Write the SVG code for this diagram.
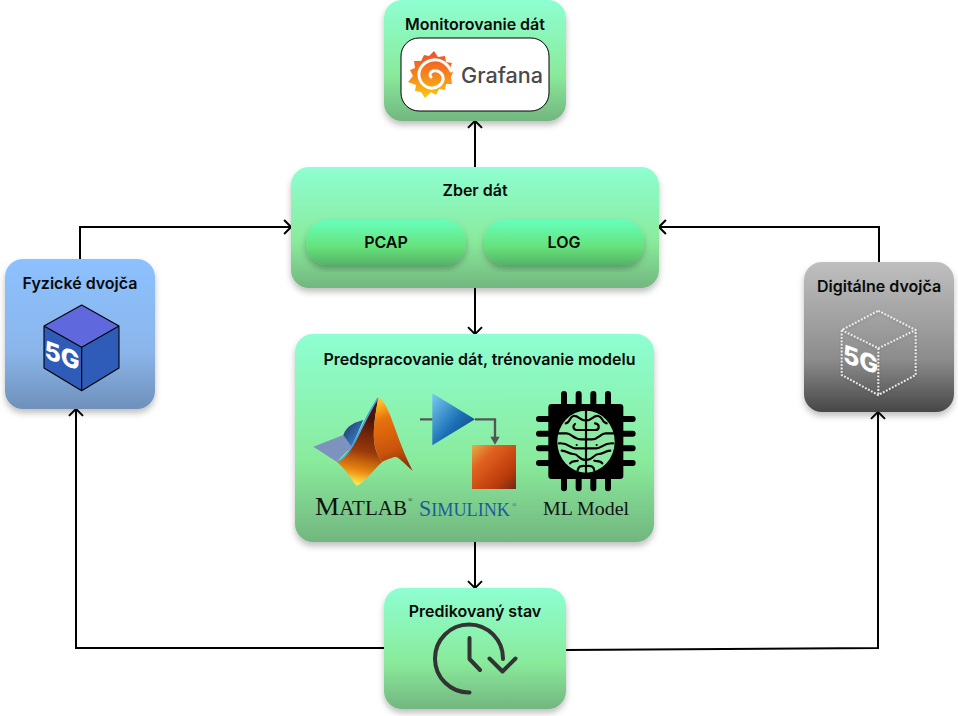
<svg xmlns="http://www.w3.org/2000/svg" width="958" height="716" viewBox="0 0 958 716">
<style>
text{font-family:"Inter","Liberation Sans",sans-serif;font-weight:600;font-size:16px;fill:#0a0a0a;text-anchor:middle}
.conn{fill:none;stroke:#000;stroke-width:2}
.card{filter:url(#sh)}
.five{font-size:25px;font-weight:800;fill:#fff;text-anchor:start}
.serif{font-family:"Liberation Serif",serif;font-weight:400;text-anchor:start}
.sq{stroke:#000;stroke-width:1.1;fill:none;stroke-linecap:round;stroke-linejoin:round}
.dots{fill:none;stroke:#eee;stroke-width:2;stroke-dasharray:1.8 1.6;filter:url(#dsh)}
</style>
<defs>
<linearGradient id="g" x1="0" y1="0" x2="0" y2="1"><stop offset="0" stop-color="#8effd2"/><stop offset=".62" stop-color="#89ea9b"/><stop offset="1" stop-color="#72b67f"/></linearGradient>
<linearGradient id="p" x1="0" y1="0" x2="0" y2="1"><stop offset="0" stop-color="#66ffbc"/><stop offset=".6" stop-color="#66e27a"/><stop offset="1" stop-color="#55b368"/></linearGradient>
<linearGradient id="b" x1="0" y1="0" x2="0" y2="1"><stop offset="0" stop-color="#8cc1ff"/><stop offset=".62" stop-color="#8ab5ea"/><stop offset="1" stop-color="#6e90ba"/></linearGradient>
<linearGradient id="d" x1="0" y1="0" x2="0" y2="1"><stop offset="0" stop-color="#bfbfbf"/><stop offset=".65" stop-color="#8c8c8c"/><stop offset="1" stop-color="#474747"/></linearGradient>
<linearGradient id="gr" x1="0" y1="0" x2="0" y2="1"><stop offset="0" stop-color="#ee4f2a"/><stop offset=".55" stop-color="#f7881c"/><stop offset="1" stop-color="#fbca0a"/></linearGradient>
<linearGradient id="mlL" gradientUnits="userSpaceOnUse" x1="230" y1="120" x2="190" y2="310"><stop offset="0" stop-color="#4e1408"/><stop offset=".5" stop-color="#9a3a0a"/><stop offset=".8" stop-color="#e8860f"/><stop offset="1" stop-color="#ffe24a"/></linearGradient>
<linearGradient id="mlR" gradientUnits="userSpaceOnUse" x1="262" y1="60" x2="340" y2="260"><stop offset="0" stop-color="#ffc22a"/><stop offset=".25" stop-color="#e8720c"/><stop offset=".7" stop-color="#c9530c"/><stop offset="1" stop-color="#8a2f08"/></linearGradient>
<linearGradient id="mlB" x1="0" y1="0" x2="1" y2="1"><stop offset="0" stop-color="#2a2f55"/><stop offset=".6" stop-color="#2f6fb0"/><stop offset="1" stop-color="#4aa8e6"/></linearGradient>
<linearGradient id="tri" x1="0" y1="0" x2="1" y2="1"><stop offset="0" stop-color="#7ccbf2"/><stop offset=".55" stop-color="#1a6fb5"/><stop offset="1" stop-color="#12385f"/></linearGradient>
<linearGradient id="sqr" x1="0" y1="0" x2="1" y2="1"><stop offset="0" stop-color="#e0b14a"/><stop offset=".3" stop-color="#e2601f"/><stop offset=".75" stop-color="#b93a0a"/><stop offset="1" stop-color="#6a2a20"/></linearGradient>
<filter id="sh" x="-10%" y="-10%" width="120%" height="125%"><feDropShadow dx="0" dy="4" stdDeviation="3" flood-color="#000" flood-opacity=".25"/></filter>
<filter id="dsh" x="-10%" y="-10%" width="120%" height="120%"><feDropShadow dx="0" dy="1" stdDeviation="1.5" flood-color="#000" flood-opacity=".2"/></filter>
<marker id="arr" viewBox="0 0 16 16" refX="14.400" refY="8" markerWidth="16" markerHeight="16" markerUnits="userSpaceOnUse" orient="auto"><path d="M7.500 1L14.500 8L7.500 15" fill="none" stroke="#000" stroke-width="2"/></marker>
</defs>

<g id="connectors">
<path class="conn" marker-end="url(#arr)" d="M475 167V121"/>
<path class="conn" marker-end="url(#arr)" d="M475 288V334"/>
<path class="conn" marker-end="url(#arr)" d="M475 542V588"/>
<path class="conn" marker-end="url(#arr)" d="M80 259V227H291"/>
<path class="conn" marker-end="url(#arr)" d="M879 262V227H659"/>
<path class="conn" marker-end="url(#arr)" d="M384 648H76V409"/>
<path class="conn" marker-end="url(#arr)" d="M566 650L878 648V412"/>
</g>

<g id="monitorovanie">
<rect class="card" x="384" y="0" width="182" height="121" rx="18" fill="url(#g)"/>
<text x="475" y="30">Monitorovanie dát</text>
<rect x="401" y="38" width="148" height="73" rx="18" fill="#fff" stroke="#000" stroke-width="1"/>
<path fill="url(#gr)" d="M434 51L438 57L445 56L446 62L452 63L450 69L453 72L451 77L452 84L446 84L445 90L439 89L436 95L431 92L425 98L421 92L415 91L416 85L408 82L413 76L410 70L415 68L414 61L421 61L424 55L429 56Z"/>
<path fill="none" stroke="#fff" stroke-width="3" stroke-linecap="round" d="M451 71C448 64 441 59 433 60C424 61 418 69 419 76C420 84 427 89 433 88C440 87 444 82 443 77C442 72 437 70 433 71C430 72 429 75 431 77"/>
<text x="502" y="83" style="font-family:'Inter',sans-serif;font-size:21px;font-weight:500;fill:#4a4a4a" textLength="82" lengthAdjust="spacingAndGlyphs">Grafana</text>
</g>

<g id="zber">
<rect class="card" x="291" y="167" width="368" height="121" rx="18" fill="url(#g)"/>
<text x="475" y="196">Zber dát</text>
</g>
<g id="pcap">
<rect class="card" x="306" y="220" width="160" height="45" rx="21" fill="url(#p)"/>
<text x="386" y="248">PCAP</text>
</g>
<g id="log">
<rect class="card" x="484" y="220" width="160" height="45" rx="21" fill="url(#p)"/>
<text x="564" y="248">LOG</text>
</g>

<g id="predspracovanie">
<rect class="card" x="295" y="334" width="359" height="208" rx="18" fill="url(#g)"/>
<text x="479.500" y="365">Predspracovanie dát, trénovanie modelu</text>
<g transform="translate(295 380) scale(.33333)">
<path fill="#7d93bd" d="M55 200L145 165L180 190L125 245Z"/>
<path fill="url(#mlB)" d="M145 165C155 135 185 125 205 120L170 200Z"/>
<path fill="url(#mlL)" d="M250 52C235 140 225 200 262 245C235 270 210 305 185 318C170 300 155 270 125 245C175 225 195 130 250 52Z"/>
<path fill="url(#mlR)" d="M250 52C285 70 300 170 353 272C325 250 310 225 296 232C285 236 272 240 262 245C225 200 235 140 250 52Z"/>
<path fill="none" stroke="#4aa8e6" stroke-width="5" d="M130 245C175 220 200 130 248 55"/>
<path fill="url(#tri)" d="M412 40L540 118L412 196Z"/>
<path fill="none" stroke="#555" stroke-width="7" d="M375 118H412M540 118H600V178"/>
<path fill="#555" d="M586 170H614L600 194Z"/>
<rect x="531" y="195" width="132" height="132" fill="url(#sqr)"/>
<g id="chip">
<path fill="none" stroke="#000" stroke-width="18" stroke-linecap="round" d="M807 42V80M851 42V80M895 42V80M939 42V80M807 290V325M851 290V325M895 290V325M939 290V325M732 117H770M732 161H770M732 205H770M732 249H770M975 117H1013M975 161H1013M975 205H1013M975 249H1013"/>
<rect x="760" y="72" width="225" height="225" rx="10" fill="#000"/>
<ellipse cx="873" cy="185" rx="86" ry="93" fill="#8ce8a3"/>
<path fill="none" stroke="#000" stroke-width="6.500" stroke-linecap="round" stroke-linejoin="round" d="M873 90V278M873 122C855 122 850 105 835 108C822 112 826 128 812 130M873 150H845C835 150 832 138 840 132M790 160H815C830 160 835 178 860 178H873M873 205H840C825 205 822 188 792 190M873 240C850 240 852 222 835 222C822 222 815 212 800 212M848 272C850 255 862 258 873 258M825 250C832 240 842 245 848 242M873 150H900C915 150 915 132 900 130M873 122C890 122 895 105 910 108C925 112 920 128 935 130M955 160H932C915 160 912 178 890 178H873M873 205H905C920 205 925 188 954 190M873 240C895 240 895 222 912 222C925 222 930 212 946 212M898 272C896 255 885 258 873 258M922 250C915 240 905 245 898 242M845 195V195M905 195V195"/>
</g>
</g>
<text class="serif" x="315" y="515" style="font-size:26px;fill:#111" textLength="92" lengthAdjust="spacingAndGlyphs">M<tspan style="font-size:20px">ATLAB</tspan></text>
<text class="serif" x="408" y="502" style="font-size:6px;fill:#111">®</text>
<text class="serif" x="419" y="516" style="font-size:23px;fill:#1c5a9a" textLength="91" lengthAdjust="spacingAndGlyphs">S<tspan style="font-size:19px">IMULINK</tspan></text>
<text class="serif" x="512" y="507" style="font-size:6px;fill:#1c5a9a">®</text>
<text class="serif" x="543" y="515" style="font-size:19px;fill:#111" textLength="86" lengthAdjust="spacingAndGlyphs">ML Model</text>
</g>

<g id="predikovany">
<rect class="card" x="384" y="588" width="182" height="121" rx="18" fill="url(#g)"/>
<text x="475" y="617">Predikovaný stav</text>
<path fill="none" stroke="#333" stroke-width="4" stroke-linecap="round" stroke-linejoin="round" d="M469.500 692.500A34 34 0 1 1 503 659M469.500 638V659L480 670M489.500 658.500L502.500 671.500L515.500 658.500"/>
</g>

<g id="fyzicke">
<rect class="card" x="5" y="259" width="150" height="150" rx="18" fill="url(#b)"/>
<text x="80" y="289">Fyzické dvojča</text>
<path fill="#5f69dd" d="M81.700 305L119 326L81.700 347.300L44 326Z"/>
<path fill="#2f5bb9" d="M44 326L81.700 347.300V390.700L44 368ZM119 326L81.700 347.300V390.700L119 368Z"/>
<path class="sq" d="M81.700 305L119 326V368L81.700 390.700L44 368V326ZM44 326L81.700 347.300L119 326M81.700 347.300V390.700"/>
<text class="five" transform="translate(44.500 358) skewY(20)">5G</text>
</g>

<g id="digitalne">
<rect class="card" x="804" y="262" width="150" height="150" rx="18" fill="url(#d)"/>
<text x="879" y="292">Digitálne dvojča</text>
<path class="dots" d="M878.300 310.700L915.700 330V375L878.300 395L841.700 375V330ZM841.700 330L878.300 348.300L915.700 330M878.300 348.300V395"/>
<text class="five" transform="translate(843 362) skewY(20)">5G</text>
</g>
</svg>
